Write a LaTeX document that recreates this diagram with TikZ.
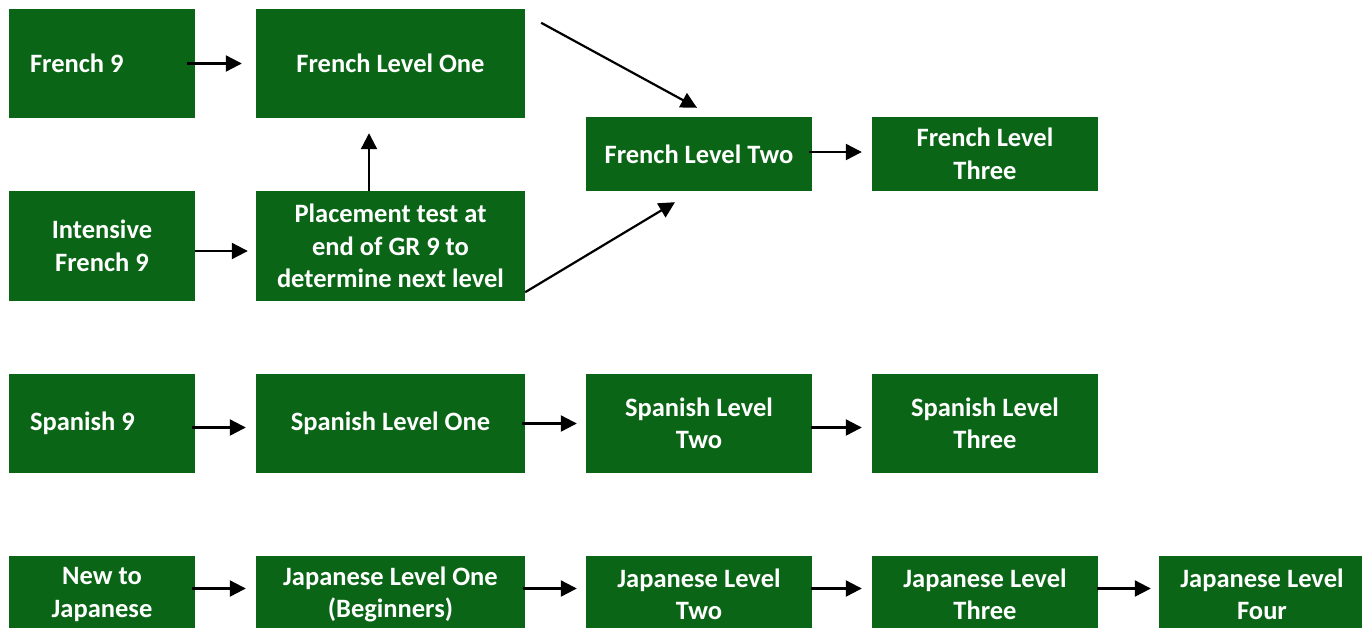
\documentclass[tikz,border=0pt]{standalone}
\usepackage{fontspec}
\setmainfont{Carlito}
\usetikzlibrary{arrows.meta}
\definecolor{boxgreen}{RGB}{10,102,22}
\begin{document}
\begin{tikzpicture}[x=1pt,y=-1pt,
  box/.style={fill=boxgreen, draw=none, text=white, inner sep=0pt, align=center,
    font=\bfseries\fontsize{26.5}{32.5}\selectfont},
  narrow/.style={box, minimum width=186pt},
  leftbox/.style={box, text width=144pt, inner xsep=21pt, align=flush left},
  wide/.style={box, minimum width=269pt},
  mid/.style={box, minimum width=226pt},
  arr/.style={line width=2.2pt, -{Triangle[length=16pt,width=16pt]}}]
\clip (0,0) rectangle (1362,627);
\fill[white] (0,0) rectangle (1362,627);
% French
\node[leftbox, minimum height=109pt] (f9) at (102,63.5) {\mbox{French 9}};
\node[wide, minimum height=109pt] (f1) at (390.5,63.5) {French Level One};
\node[narrow, minimum height=110pt] (if9) at (102,246) {Intensive\\French 9};
\node[wide, minimum height=110pt] (pt) at (390.5,246) {Placement test at\\end of GR 9 to\\determine next level};
\node[mid, minimum height=74pt] (f2) at (699,154) {French Level Two};
\node[mid, minimum height=74pt] (f3) at (985,154) {French Level\\Three};
% Spanish
\node[leftbox, minimum height=99pt] (s9) at (102,423.5) {\mbox{Spanish 9}};
\node[wide, minimum height=99pt] (s1) at (390.5,423.5) {Spanish Level One};
\node[mid, minimum height=99pt] (s2) at (699,423.5) {Spanish Level\\Two};
\node[mid, minimum height=99pt] (s3) at (985,423.5) {Spanish Level\\Three};
% Japanese
\node[narrow, minimum height=77pt] (j0) at (102,594.5) {New to\\Japanese};
\node[wide, minimum height=77pt] (j1) at (390.5,594.5) {Japanese Level One\\(Beginners)};
\node[mid, minimum height=77pt] (j2) at (699,594.5) {Japanese Level\\Two};
\node[mid, minimum height=77pt] (j3) at (985,594.5) {Japanese Level\\Three};
\node[box, minimum width=206pt, minimum height=77pt] (j4) at (1262,594.5) {Japanese Level\\Four};
% arrows
\draw[arr] ([xshift=-8pt]f9.east) -- ([xshift=-14pt]f1.west);
\draw[arr] ([yshift=-5pt]if9.east) -- ([xshift=-8pt,yshift=-5pt]pt.west);
\draw[arr] ([xshift=-21.5pt]pt.north) -- ([xshift=-21.5pt,yshift=-15pt]f1.south);
\draw[arr] ([xshift=16pt,yshift=-14pt]f1.north east) -- ([xshift=-2pt,yshift=9pt]f2.north);
\draw[arr] ([yshift=9pt]pt.south east) -- ([xshift=-24pt,yshift=-11pt]f2.south);
\draw[arr] ([xshift=-3pt,yshift=2pt]f2.east) -- ([xshift=-10pt,yshift=2pt]f3.west);
\draw[arr] ([xshift=-3pt,yshift=-4pt]s9.east) -- ([xshift=-10pt,yshift=-4pt]s1.west);
\draw[arr] ([xshift=-3pt]s1.east) -- ([xshift=-9pt]s2.west);
\draw[arr] ([xshift=-1pt,yshift=-4pt]s2.east) -- ([xshift=-10pt,yshift=-4pt]s3.west);
\draw[arr] ([xshift=-3pt,yshift=6pt]j0.east) -- ([xshift=-10pt,yshift=6pt]j1.west);
\draw[arr] ([xshift=-2pt,yshift=6pt]j1.east) -- ([xshift=-9pt,yshift=6pt]j2.west);
\draw[arr] ([xshift=-1pt,yshift=6pt]j2.east) -- ([xshift=-10pt,yshift=6pt]j3.west);
\draw[arr] ([xshift=-1pt,yshift=6pt]j3.east) -- ([xshift=-8pt,yshift=6pt]j4.west);
\end{tikzpicture}
\end{document}
